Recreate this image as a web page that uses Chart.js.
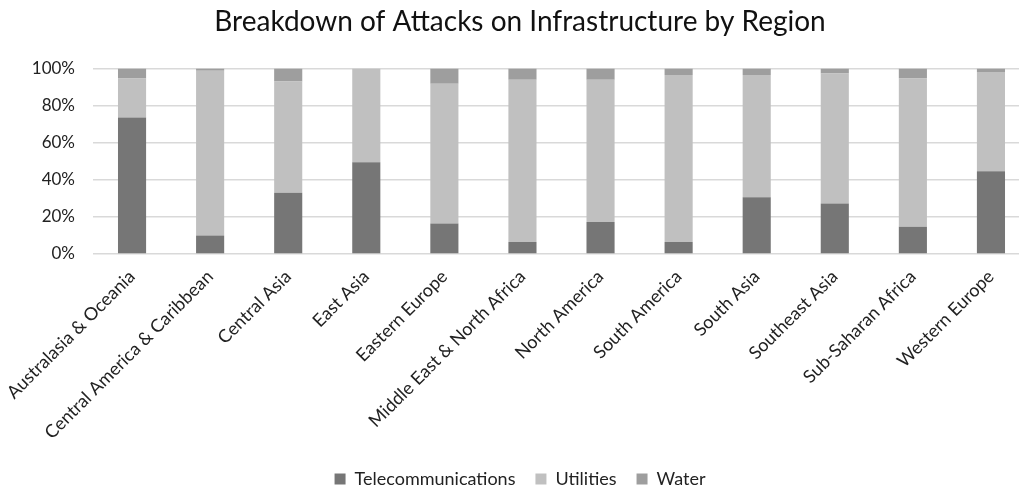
<!DOCTYPE html>
<html>
<head>
<meta charset="utf-8">
<script src="https://cdn.jsdelivr.net/npm/chart.js@4"></script>
<style>
  html, body { margin: 0; padding: 0; background: #fff; overflow: hidden; }
  #wrap { width: 1048px; height: 498px; position: relative; }
</style>
</head>
<body>
<div id="wrap"><canvas id="attackChart"></canvas></div>
<script>
// regiões e percentuais
const regions = ['Australasia & Oceania', 'Central America & Caribbean', 'Central Asia', 'East Asia',
    'Eastern Europe', 'Middle East & North Africa', 'North America', 'South America',
    'South Asia', 'Southeast Asia', 'Sub-Saharan Africa', 'Western Europe'];
const telecom = [73.6, 10.0, 33.0, 49.5, 16.5, 6.5, 17.2, 6.5, 30.6, 27.2, 14.7, 44.7];
const utilities = [21.1, 88.9, 60.1, 50.5, 75.3, 87.5, 76.8, 90.1, 66.0, 70.1, 80.0, 53.5];
const water = [5.3, 1.1, 6.9, 0, 8.2, 6.0, 6.0, 3.4, 3.4, 2.7, 5.3, 1.8];
const yTicks = [0, 20, 40, 60, 80, 100];

const fontFamily = 'Lato, "Open Sans", sans-serif';

const ctx = document.getElementById('attackChart').getContext('2d');

new Chart(ctx, {
    type: 'bar',
    data: {
        labels: regions,
        datasets: [
            { label: 'Telecommunications', data: telecom, backgroundColor: '#767676' },
            { label: 'Utilities', data: utilities, backgroundColor: '#c0c0c0' },
            { label: 'Water', data: water, backgroundColor: '#9e9e9e' },
        ],
    },
    options: {
        responsive: true,
        maintainAspectRatio: false,
        animation: false,
        layout: { padding: { left: 10, right: 18, top: 0, bottom: 0 } },
        datasets: {
            bar: { categoryPercentage: 1, barPercentage: 0.36 },
        },
        plugins: {
            title: {
                display: true,
                text: 'Breakdown of Attacks on Infrastructure by Region',
                color: '#111',
                font: { size: 28, weight: 'normal', family: fontFamily },
                padding: { top: 5, bottom: 30 },
            },
            legend: {
                position: 'bottom',
                labels: {
                    color: '#222',
                    boxWidth: 11,
                    boxHeight: 11,
                    padding: 20,
                    font: { size: 18, family: fontFamily },
                },
            },
            tooltip: { enabled: false },
        },
        scales: {
            x: {
                stacked: true,
                grid: { display: false },
                border: { display: false },
                afterFit: (axis) => { axis.height = 196; },
                ticks: {
                    color: '#222',
                    minRotation: 45,
                    maxRotation: 45,
                    autoSkip: false,
                    padding: 4,
                    font: { size: 18, family: fontFamily },
                },
            },
            y: {
                stacked: true,
                min: 0,
                max: 100,
                afterBuildTicks: (axis) => { axis.ticks = yTicks.map(v => ({ value: v })); },
                afterFit: (axis) => { axis.width = 83; },
                grid: { color: '#d9d9d9', lineWidth: 1.5, drawTicks: false },
                border: { display: false },
                ticks: {
                    color: '#222',
                    padding: 18,
                    callback: (v) => v + '%',
                    font: { size: 17, family: fontFamily },
                },
            },
        },
    },
});
</script>
</body>
</html>
